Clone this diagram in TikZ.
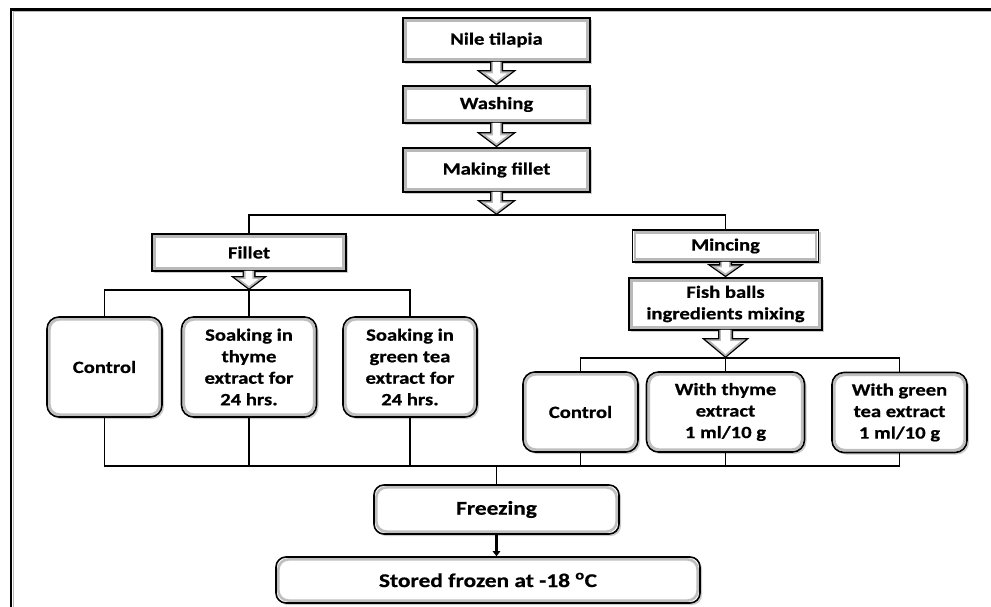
\documentclass[tikz,border=0pt]{standalone}
\usepackage{fontspec}
\setmainfont{Carlito}[FakeStretch=1.2, BoldFeatures={FakeBold=0.6}]
\usetikzlibrary{shadows,arrows.meta,calc}
\newcommand\arrLayer[8]{%
 \fill[#3] let \p1=(#1.south), \p2=(#2) in
 (\x1-#4pt,\y1+#8pt) -- (\x1-#4pt,\y2+#6pt) -- (\x1-#5pt,\y2+#6pt) -- (\x1,\y2+#7pt)
 -- (\x1+#5pt,\y2+#6pt) -- (\x1+#4pt,\y2+#6pt) -- (\x1+#4pt,\y1+#8pt) -- cycle;}
\newcommand\barrow[5]{%
 \pgfmathsetmacro\myArSa{#3-1.3}\pgfmathsetmacro\myArHa{#4*(#5-1.3)/#5-2.2}\pgfmathsetmacro\myArSha{#5-1.3}%
 \pgfmathsetmacro\myArSb{#3-3.2}\pgfmathsetmacro\myArHb{#4*(#5-3.2)/#5-5.3}\pgfmathsetmacro\myArShb{#5-3.2}%
 \arrLayer{#1}{#2}{black}{#3}{#4}{#5}{0}{0}%
 \arrLayer{#1}{#2}{gray!55}{\myArSa}{\myArHa}{\myArSha}{1.6}{0.9}%
 \arrLayer{#1}{#2}{white}{\myArSb}{\myArHb}{\myArShb}{4}{0.9}}
\tikzset{
 boxbase/.style={draw=black, line width=1.6pt, fill=white, inner sep=0pt, align=center,
   drop shadow={shadow xshift=2pt, shadow yshift=-2pt, opacity=0.4},
   font=\bfseries\fontsize{17.2}{21.5}\selectfont},
 sq/.style={boxbase,
   path picture={\draw[gray!55, line width=2.6pt]
     ([shift={(2.4pt,2.4pt)}]path picture bounding box.south west) rectangle
     ([shift={(-2.4pt,-2.4pt)}]path picture bounding box.north east);}},
 rb/.style={boxbase, rounded corners=12pt,
   path picture={\draw[gray!50, line width=2.6pt, rounded corners=10pt]
     ([shift={(2.4pt,2.4pt)}]path picture bounding box.south west) rectangle
     ([shift={(-2.4pt,-2.4pt)}]path picture bounding box.north east);}},
 big/.style={font=\bfseries\fontsize{19.5}{23}\selectfont},
 bus/.style={draw=black, line width=1.6pt},
 dim/.style n args={2}{minimum width=#1pt, minimum height=#2pt}
}
\begin{document}
\begin{tikzpicture}[x=1pt,y=-1pt]
\useasboundingbox (0,0) rectangle (991,607);
% frame
\draw[gray!55, line width=1pt] (13.5,607) -- (13.5,11.8) -- (991,11.8);
\draw[line width=2.8pt] (11,607) -- (11,9.5) -- (991,9.5);
% top chain
\node[sq, dim={187}{44}] (nile) at (496.5,40) {Nile tilapia};
\node[sq, dim={187}{37}] (wash) at (496.5,104.5) {Washing};
\node[sq, dim={187}{44}] (mfil) at (496.5,170) {Making fillet};
\coordinate (topbus) at (496.5,215);
\node[sq, dim={194}{37}] (fillet) at (249,252.5) {Fillet};
\node[sq, dim={186}{32}] (minc) at (725.5,246) {Mincing};
\node[sq, dim={193}{52}] (fish) at (725.5,304) {Fish balls\\ingredients mixing};
\coordinate (lbus) at (249,290);
\coordinate (rbus) at (725.5,358);
% treatment boxes
\node[rb, dim={115}{100}] (ctlL) at (104.5,367) {Control};
\node[rb, dim={135}{100}] (soakT) at (249,367) {Soaking in\\thyme\\extract for\\24 hrs.};
\node[rb, dim={134}{100}] (soakG) at (410,367) {Soaking in\\green tea\\extract for\\24 hrs.};
\node[rb, dim={115}{80}] (ctlR) at (580.5,412) {Control};
\node[rb, dim={158}{80}] (withT) at (725.5,412) {With thyme\\extract\\1 ml/10 g};
\node[rb, dim={135}{80}] (withG) at (899.5,412.5) {With green\\tea extract\\1 ml/10 g};
\coordinate (botbus) at (496.5,466);
\node[rb, big, rounded corners=10pt, dim={245}{49}] (freez) at (496.5,509.5) {Freezing};
\node[rb, big, rounded corners=10pt, dim={424}{46}] (stored) at (488,580) {Stored frozen at -18 \textsuperscript{o}C};
% block arrows
\barrow{nile}{wash.north}{6.5}{20}{15}
\barrow{wash}{mfil.north}{6.5}{20}{15}
\barrow{mfil}{topbus}{6.5}{20}{15}
\barrow{fillet}{lbus}{6.5}{18.5}{14}
\barrow{minc}{fish.north}{6.5}{18.5}{13}
\barrow{fish}{rbus}{7.5}{24}{20}
% buses
\draw[bus] (fillet.north) |- (topbus) -| (minc.north);
\draw[bus] (ctlL.north) |- (lbus) -| (soakG.north);
\draw[bus] (soakT.north) -- (soakT.north |- lbus);
\draw[bus] (ctlR.north) |- (rbus) -| (withG.north);
\draw[bus] (withT.north) -- (withT.north |- rbus);
\draw[bus] (ctlL.south) |- (botbus) -| (withG.south);
\draw[bus] (soakT.south) -- (soakT.south |- botbus);
\draw[bus] (soakG.south) -- (soakG.south |- botbus);
\draw[bus] (ctlR.south) -- (ctlR.south |- botbus);
\draw[bus] (withT.south) -- (withT.south |- botbus);
\draw[bus] (freez.north) -- (freez.north |- botbus);
\draw[line width=2.6pt, -{Triangle[length=5pt,width=7.5pt]}] (freez.south) -- (freez.south |- stored.north);
\end{tikzpicture}
\end{document}
